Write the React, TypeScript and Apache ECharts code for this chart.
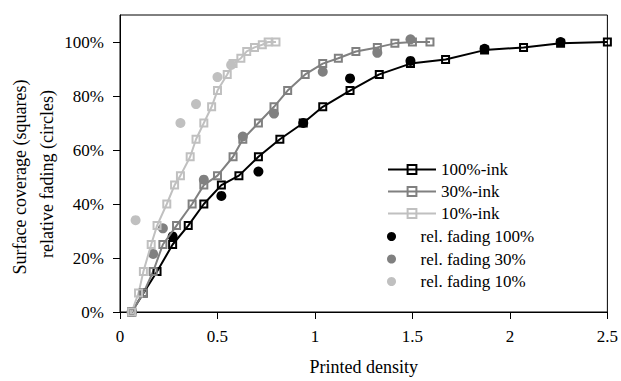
import React, { useEffect, useRef } from "react";
import * as echarts from "echarts";

const FONT = "Liberation Serif";

// Surface coverage curves (squares)
const x100 = [0.06, 0.12, 0.19, 0.27, 0.35, 0.43, 0.52, 0.61, 0.71, 0.82, 0.94, 1.04, 1.18, 1.33, 1.49, 1.67, 1.87, 2.07, 2.26, 2.5];
const y100 = [0, 0.07, 0.15, 0.25, 0.32, 0.4, 0.47, 0.505, 0.575, 0.64, 0.7, 0.76, 0.82, 0.88, 0.92, 0.935, 0.97, 0.98, 0.995, 1.0];
const x30 = [0.06, 0.12, 0.17, 0.22, 0.29, 0.37, 0.43, 0.5, 0.58, 0.63, 0.71, 0.79, 0.86, 0.95, 1.04, 1.12, 1.21, 1.32, 1.41, 1.5, 1.59];
const y30 = [0, 0.07, 0.15, 0.25, 0.32, 0.4, 0.47, 0.505, 0.575, 0.64, 0.7, 0.76, 0.82, 0.88, 0.92, 0.94, 0.965, 0.98, 0.995, 1.0, 1.0];
const x10 = [0.06, 0.095, 0.12, 0.16, 0.19, 0.24, 0.28, 0.31, 0.36, 0.39, 0.43, 0.47, 0.5, 0.55, 0.58, 0.62, 0.65, 0.69, 0.73, 0.76, 0.8];
const y10 = [0, 0.07, 0.15, 0.25, 0.32, 0.4, 0.47, 0.505, 0.575, 0.64, 0.7, 0.76, 0.82, 0.88, 0.92, 0.94, 0.965, 0.98, 0.99, 1.0, 1.0];

// Relative fading (circles)
const fx100 = [0.06, 0.27, 0.52, 0.71, 0.94, 1.18, 1.49, 1.87, 2.26];
const fy100 = [0, 0.28, 0.43, 0.52, 0.7, 0.865, 0.93, 0.975, 1.0];
const fx30 = [0.06, 0.17, 0.22, 0.43, 0.63, 0.79, 1.04, 1.32, 1.49];
const fy30 = [0, 0.215, 0.31, 0.49, 0.65, 0.735, 0.89, 0.96, 1.01];
const fx10 = [0.06, 0.08, 0.31, 0.39, 0.5, 0.57];
const fy10 = [0, 0.34, 0.7, 0.77, 0.87, 0.915];

const lineNames = ["100%-ink", "30%-ink", "10%-ink"];
const fadeNames = ["rel. fading 100%", "rel. fading 30%", "rel. fading 10%"];
const colors = ["#000000", "#808080", "#c0c0c0"];
const yTicks = [0, 0.2, 0.4, 0.6, 0.8, 1.0];

const zip = (xs: number[], ys: number[]) => xs.map((x, i) => [x, ys[i]]);

export default function App() {
  const ref = useRef<HTMLDivElement>(null);
  useEffect(() => {
    document.body.style.margin = "0";
    const chart = echarts.init(ref.current!, null, { renderer: "svg" });
    const lineData = [zip(x100, y100), zip(x30, y30), zip(x10, y10)];
    const fadeData = [zip(fx100, fy100), zip(fx30, fy30), zip(fx10, fy10)];
    const scatterSeries = fadeData.map((d, i) => ({
      name: fadeNames[i],
      type: "scatter",
      data: d,
      symbol: "circle",
      symbolSize: 10,
      itemStyle: { color: colors[i], opacity: 1 },
      z: 2,
    }));
    const lineSeries = lineData.map((d, i) => ({
      name: lineNames[i],
      type: "line",
      data: d,
      symbol: "rect",
      symbolSize: 7,
      showSymbol: true,
      color: colors[i],
      lineStyle: { color: colors[i], width: 2 },
      itemStyle: { color: "rgba(0,0,0,0)", borderColor: colors[i], borderWidth: 2 },
      z: 3,
    }));
    chart.setOption({
      animation: false,
      grid: { left: 120, right: 12, top: 15, bottom: 61, show: true, borderColor: "#000", borderWidth: 1 },
      xAxis: {
        type: "value",
        min: 0,
        max: 2.5,
        interval: 0.5,
        name: "Printed density",
        nameLocation: "middle",
        nameGap: 46,
        nameTextStyle: { fontFamily: FONT, fontSize: 18, color: "#000" },
        axisLine: { show: true, lineStyle: { color: "#000", width: 1 } },
        axisTick: { show: true, inside: false, length: 7, lineStyle: { color: "#000" } },
        axisLabel: { fontFamily: FONT, fontSize: 17, color: "#000", margin: 16 },
        splitLine: { show: false },
      },
      yAxis: {
        type: "value",
        min: 0,
        max: 1.1,
        interval: 0.2,
        axisLine: { show: true, lineStyle: { color: "#000", width: 1 } },
        axisTick: { show: true, inside: false, length: 7, lineStyle: { color: "#000" }, customValues: yTicks },
        axisLabel: {
          fontFamily: FONT,
          fontSize: 17,
          color: "#000",
          margin: 16,
          customValues: yTicks,
          formatter: (v: number) => Math.round(v * 100) + "%",
        },
        splitLine: { show: false },
      },
      legend: [
        {
          data: lineNames,
          orient: "vertical",
          left: 387,
          top: 161,
          padding: 0,
          itemWidth: 48,
          itemHeight: 11,
          itemGap: 5,
          selectedMode: false,
          textStyle: { fontFamily: FONT, fontSize: 17, color: "#000" },
        },
        {
          data: fadeNames,
          orient: "vertical",
          left: 387,
          top: 228,
          padding: 0,
          itemWidth: 48,
          itemHeight: 9,
          itemGap: 5.5,
          selectedMode: false,
          textStyle: { fontFamily: FONT, fontSize: 17, color: "#000" },
        },
      ],
      graphic: [
        {
          type: "text",
          x: 20,
          y: 177,
          rotation: Math.PI / 2,
          style: {
            text: "Surface coverage (squares)",
            font: `18px '${FONT}'`,
            fill: "#000",
            align: "center",
            verticalAlign: "middle",
            textAlign: "center",
            textVerticalAlign: "middle",
          },
        },
        {
          type: "text",
          x: 47,
          y: 174,
          rotation: Math.PI / 2,
          style: {
            text: "relative fading (circles)",
            font: `18px '${FONT}'`,
            fill: "#000",
            align: "center",
            verticalAlign: "middle",
            textAlign: "center",
            textVerticalAlign: "middle",
          },
        },
      ],
      series: [...scatterSeries, ...lineSeries],
    });
    return () => chart.dispose();
  }, []);
  return <div ref={ref} style={{ width: 621, height: 381 }} />;
}
